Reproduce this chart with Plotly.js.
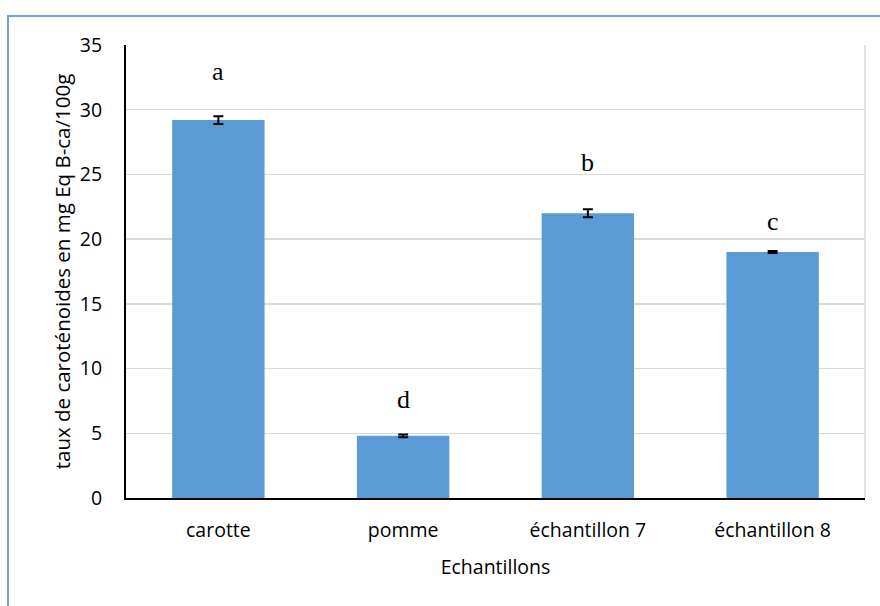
<!DOCTYPE html>
<html>
<head>
<meta charset="utf-8">
<script src="https://cdn.plot.ly/plotly-3.0.1.min.js"></script>
<style>
  html, body { margin: 0; padding: 0; background: #fff; }
  #wrap { position: relative; width: 880px; height: 606px; }
  #chart { position: absolute; left: 0; top: 0; width: 880px; height: 606px; }
  #frame { position: absolute; left: 7px; top: 15px; width: 880px; height: 600px;
           border-left: 2px solid #6fa3d8; border-top: 2px solid #6fa3d8; pointer-events: none; }
</style>
</head>
<body>
<div id="wrap">
  <div id="chart"></div>
  <div id="frame"></div>
</div>
<script>
const categories = ["carotte", "pomme", "échantillon 7", "échantillon 8"];
const values = [29.2, 4.8, 22.0, 19.0];
const errors = [0.3, 0.1, 0.3, 0.08];
const letters = ["a", "d", "b", "c"];
const yTickVals = [0, 5, 10, 15, 20, 25, 30, 35];

const letterShift = [32, 20, 34, 14];

const trace = {
  type: "bar",
  x: categories,
  y: values,
  width: 0.5,
  marker: { color: "#5b9bd5" },
  error_y: { type: "data", array: errors, visible: true, color: "#000", thickness: 2, width: 5 },
  hoverinfo: "none"
};

const annotations = categories.map((c, i) => ({
  x: c, y: values[i], xref: "x", yref: "y",
  text: letters[i], showarrow: false, yanchor: "bottom", yshift: letterShift[i],
  font: { family: "Liberation Serif, Times New Roman, serif", size: 26, color: "#000" }
}));

const FONT = "Open Sans, sans-serif";

const layout = {
  width: 880, height: 606,
  margin: { l: 126, r: 15, t: 45, b: 108 },
  paper_bgcolor: "#fff", plot_bgcolor: "#fff",
  showlegend: false,
  xaxis: {
    type: "category",
    showline: true, linecolor: "#000", linewidth: 2,
    ticks: "", showgrid: false,
    ticklabelstandoff: 14,
    automargin: false,
    tickfont: { family: FONT, size: 19.5, color: "#000" },
    title: { text: "Echantillons", font: { family: FONT, size: 19.5, color: "#000" }, standoff: 18 }
  },
  yaxis: {
    range: [0, 35],
    tickvals: yTickVals,
    showline: true, linecolor: "#000", linewidth: 2,
    showgrid: true, gridcolor: "#d9d9d9", gridwidth: 1.5,
    zeroline: false,
    ticks: "", ticklen: 0,
    ticklabelstandoff: 18,
    automargin: false,
    tickfont: { family: FONT, size: 19.5, color: "#000" },
    title: { text: "taux de caroténoides en mg Eq B-ca/100g", font: { family: FONT, size: 20.5, color: "#000" }, standoff: 4 }
  },
  shapes: [
    { type: "line", xref: "paper", yref: "paper", x0: 1, x1: 1, y0: 0, y1: 1,
      line: { color: "#d9d9d9", width: 1.5 }, layer: "below" }
  ],
  annotations: annotations
};

Plotly.newPlot("chart", [trace], layout, { staticPlot: true, displayModeBar: false });
</script>
</body>
</html>
